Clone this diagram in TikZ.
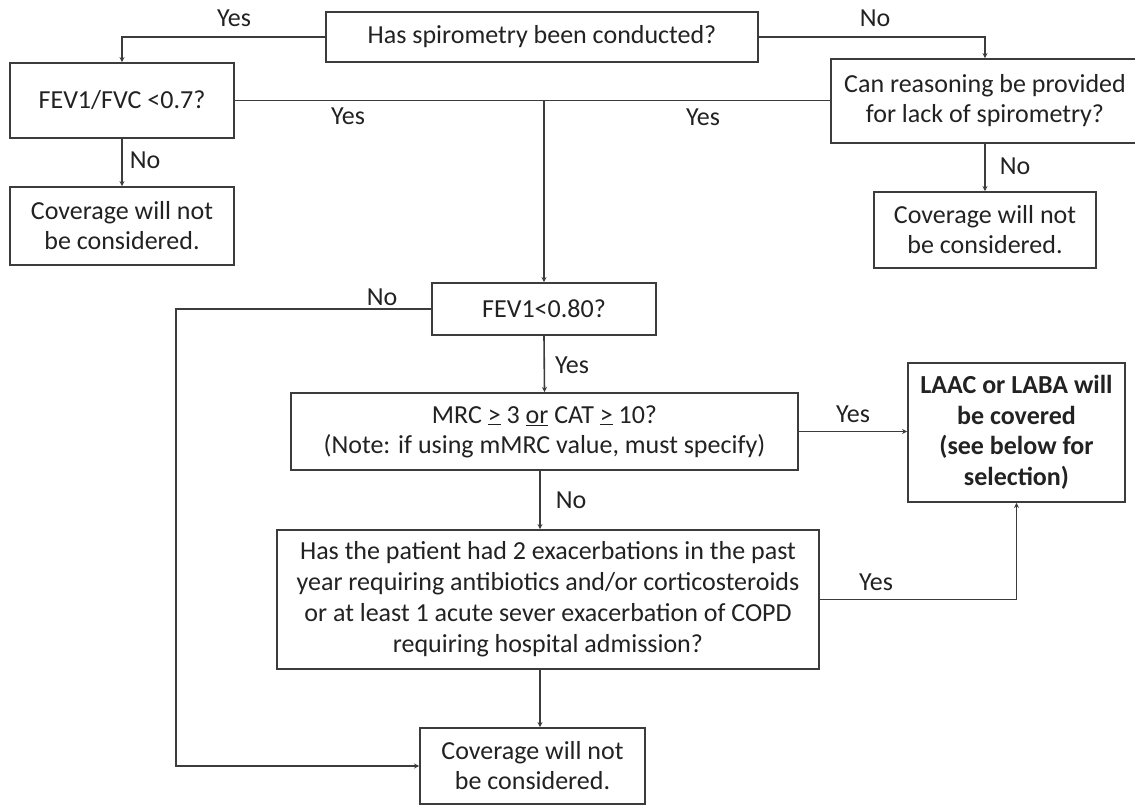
\documentclass[tikz,border=0pt]{standalone}
\usepackage{fontspec}
\setmainfont{Carlito}
\usetikzlibrary{arrows.meta}
\definecolor{linec}{HTML}{3C3C3C}
\definecolor{txt}{HTML}{222222}
\begin{document}
\begin{tikzpicture}[x=1pt,y=-1pt,
  box/.style={draw=linec, line width=1.9pt, rectangle, inner sep=0pt, align=center, text=txt, font=\fontsize{26}{30}\selectfont},
  lbl/.style={text=txt, font=\fontsize{26}{30}\selectfont, inner sep=0pt},
  conn/.style={draw=linec, line width=1.6pt},
  arr/.style={conn, -{Stealth[length=5pt,width=5pt]}}]
\clip (0,0) rectangle (1135,804);
\fill[white] (0,0) rectangle (1135,804);

\node[box, minimum width=432pt, minimum height=50pt] (q1) at (542,37) {Has spirometry been conducted?};
\node[box, minimum width=224pt, minimum height=75pt] (q2) at (122,100.5) {FEV1/FVC <0.7?};
\node[box, minimum width=224pt, minimum height=78pt] (c1) at (122,226) {Coverage will not\\be considered.};
\node[box, minimum width=308pt, minimum height=84pt] (q3) at (985,101) {Can reasoning be provided\\for lack of spirometry?};
\node[box, minimum width=222pt, minimum height=76pt] (c2) at (985,230) {Coverage will not\\be considered.};
\node[box, minimum width=224pt, minimum height=52pt] (q4) at (544,309) {FEV1<0.80?};
\node[box, minimum width=507pt, minimum height=77pt] (q5) at (544.5,431.5) {MRC \underline{>} 3 \underline{or} CAT \underline{>} 10?\\(Note: if using mMRC value, must specify)};
\node[box, minimum width=217pt, minimum height=139pt, font=\fontsize{26}{30.5}\selectfont\bfseries] (laac) at (1016.5,432.5) {LAAC or LABA will\\be covered\\(see below for\\selection)};
\node[box, minimum width=542pt, minimum height=139pt, font=\fontsize{26}{31}\selectfont] (q6) at (548,599.5) {Has the patient had 2 exacerbations in the past\\year requiring antibiotics and/or corticosteroids\\or at least 1 acute sever exacerbation of COPD\\requiring hospital admission?};
\node[box, minimum width=225pt, minimum height=76pt] (c3) at (532.5,766) {Coverage will not\\be considered.};

\node[lbl] (l1) at (234,18) {Yes};
\node[lbl] (l2) at (875,18) {No};
\node[lbl] (l3) at (348,116) {Yes};
\node[lbl] (l4) at (703,117) {Yes};
\node[lbl] (l5) at (145,160) {No};
\node[lbl] (l6) at (1015,166) {No};
\node[lbl] (l7) at (382,297) {No};
\node[lbl] (l8) at (572,365) {Yes};
\node[lbl] (l9) at (853,414) {Yes};
\node[lbl] (l10) at (571,500) {No};
\node[lbl] (l11) at (876,582) {Yes};

\coordinate (lft) at (176,0);
\coordinate (col) at (540,0);

\draw[arr] (q1.west) -| (q2.north);
\draw[arr] (q1.east) -| (q3.north);
\draw[conn] (q2.east) -- (q2.east -| q3.west);
\draw[arr] (q2.east -| q4.north) -- (q4.north);
\draw[arr] (q2.south) -- (c1.north);
\draw[arr] (q3.south) -- (c2.north);
\draw[arr] (q4.west) -- (q4.west -| lft) |- (c3.west);
\draw[arr] (q4.south) -- (q5.north);
\draw[arr] (q5.east) -- (q5.east -| laac.west);
\draw[arr] (q5.south -| col) -- (q6.north -| col);
\draw[arr] (q6.south -| col) -- (c3.north -| col);
\draw[arr] (q6.east) -| (laac.south);
\end{tikzpicture}
\end{document}
